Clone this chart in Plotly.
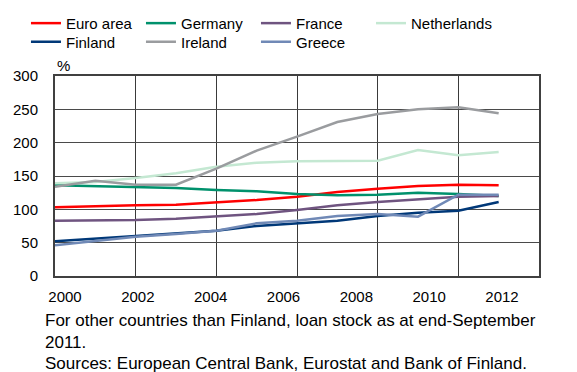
import plotly.graph_objects as go

years = list(range(2000, 2012))

euro_area = [103, 105, 106, 107, 110, 114, 119, 126, 131, 135, 137, 136]
germany = [136, 135, 133, 132, 129, 127, 123, 121, 122, 125, 123, 120]
france = [83, 83.5, 84, 86, 89, 93, 99, 106, 111, 115, 119, 120]
netherlands = [139, 141, 147, 154, 164, 170, 172, 172, 173, 189, 181, 186]
finland = [52, 56, 60, 63, 68, 75, 79, 83, 90, 95, 98, 111]
ireland = [134, 143, 137, 137, 161, 188, 209, 231, 243, 250, 253, 244]
greece = [46, 53, 59, 63, 68, 79, 83, 90, 93, 89, 122, 122]

year_ticks = [2000, 2002, 2004, 2006, 2008, 2010, 2012]
y_ticks = [0, 50, 100, 150, 200, 250, 300]

# (name, values, colour, legend group box)
series = [
    ("Euro area", euro_area, "#FF0000", "legend"),
    ("Germany", germany, "#00916C", "legend"),
    ("France", france, "#6F5480", "legend"),
    ("Netherlands", netherlands, "#C4E8D2", "legend2"),
    ("Finland", finland, "#003878", "legend3"),
    ("Ireland", ireland, "#9A9C9F", "legend3"),
    ("Greece", greece, "#7089B6", "legend3"),
]

FONT = "Liberation Sans, Arial, sans-serif"

fig = go.Figure()
for name, vals, color, lg in series:
    fig.add_trace(go.Scatter(
        x=years, y=vals, name=name, mode="lines",
        line=dict(color=color, width=2.5), legend=lg,
    ))

# invisible carrier trace for the labelled year axis
fig.add_trace(go.Scatter(
    x=year_ticks, y=[0] * len(year_ticks), xaxis="x2", mode="markers",
    marker=dict(opacity=0), showlegend=False, hoverinfo="skip",
))

legend_common = dict(
    orientation="h", xanchor="left", yanchor="top",
    xref="container", yref="container",
    font=dict(family=FONT, size=15, color="black"),
    itemwidth=30, tracegroupgap=0, bgcolor="rgba(0,0,0,0)",
)

fig.update_layout(
    width=577, height=372,
    margin=dict(l=55, r=38, t=76, b=96, autoexpand=False),
    paper_bgcolor="white", plot_bgcolor="white",
    font=dict(family=FONT, size=15, color="black"),
    showlegend=True,
    legend=dict(x=0.045, y=0.9815, entrywidth=70, entrywidthmode="pixels",
                **legend_common),
    legend2=dict(x=0.643, y=0.9815, **legend_common),
    legend3=dict(x=0.045, y=0.9317, entrywidth=70, entrywidthmode="pixels",
                 **legend_common),
    xaxis=dict(
        range=[2000, 2012], tickvals=year_ticks, showticklabels=False,
        showgrid=True, gridcolor="#3a3a3a", gridwidth=1,
        showline=True, linecolor="#404040", linewidth=2, mirror=True,
        zeroline=False, ticks="",
    ),
    xaxis2=dict(
        overlaying="x", side="bottom", anchor="y",
        range=[1999.725, 2013.016], tickvals=year_ticks,
        ticktext=[str(t) for t in year_ticks],
        showgrid=False, showline=False, zeroline=False, ticks="",
        ticklabelstandoff=10,
        tickfont=dict(family=FONT, size=15, color="black"),
    ),
    yaxis=dict(
        range=[0, 300], tickvals=y_ticks,
        showgrid=True, gridcolor="#4a4a4a", gridwidth=1,
        showline=True, linecolor="#404040", linewidth=2, mirror=True,
        zeroline=False, ticks="", ticklabelstandoff=12,
        tickfont=dict(family=FONT, size=15, color="black"),
    ),
    annotations=[
        dict(text="%", xref="paper", yref="paper", x=0.0, y=1.0,
             xanchor="left", yanchor="bottom", showarrow=False,
             font=dict(family=FONT, size=15, color="black")),
        dict(text="For other countries than Finland, loan stock as at end-September<br>2011.",
             xref="paper", yref="paper", x=-0.025, y=(276 - 331) / 200.0,
             xanchor="left", yanchor="middle", align="left", showarrow=False,
             font=dict(family=FONT, size=17, color="black")),
        dict(text="Sources: European Central Bank, Eurostat and Bank of Finland.",
             xref="paper", yref="paper", x=-0.025, y=(276 - 363) / 200.0,
             xanchor="left", yanchor="middle", align="left", showarrow=False,
             font=dict(family=FONT, size=17, color="black")),
    ],
)

fig.write_html("out.html")
